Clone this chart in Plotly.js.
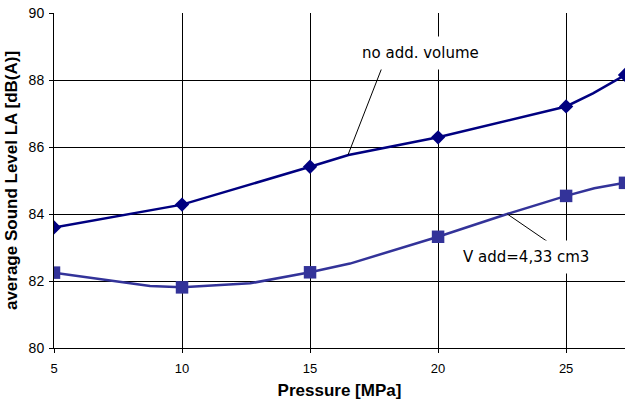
<!DOCTYPE html>
<html>
<head>
<meta charset="utf-8">
<script src="https://cdn.plot.ly/plotly-3.0.1.min.js"></script>
<style>html,body{margin:0;padding:0;background:#fff;}#chart{width:625px;height:406px;}</style>
</head>
<body>
<div id="chart"></div>
<script>
// Series: no additional volume
const xNoAdd = [5, 8.75, 10, 15, 16.5, 20, 23.2, 25, 26.05, 27.3];
const yNoAdd = [83.6, 84.12, 84.28, 85.41, 85.76, 86.29, 86.89, 87.21, 87.6, 88.15];
const markNoAdd = [1, 0, 1, 1, 0, 1, 0, 1, 0, 1];

// Series: V add = 4,33 cm3
const xVadd = [5, 8.75, 10, 12.66, 15, 16.56, 20, 22.7, 25, 26.1, 27.3];
const yVadd = [82.25, 81.85, 81.81, 81.93, 82.26, 82.52, 83.32, 84.0, 84.54, 84.77, 84.93];
const markVadd = [1, 0, 1, 0, 1, 0, 1, 0, 1, 0, 1];

const xTicks = [5, 10, 15, 20, 25];
const yTicks = [80, 82, 84, 86, 88, 90];

const labelNoAdd = "no add. volume";
const labelVadd = "V add=4,33 cm3";

const tr1 = {
  x: xNoAdd, y: yNoAdd, type: 'scatter', mode: 'lines+markers',
  line: {color: '#000080', width: 2.5},
  marker: {symbol: 'diamond', color: '#000080', opacity: 1, line: {width: 0},
           size: markNoAdd.map(m => m ? 11 : 0)},
  cliponaxis: true, hoverinfo: 'none'
};
const tr2 = {
  x: xVadd, y: yVadd, type: 'scatter', mode: 'lines+markers',
  line: {color: '#333399', width: 2.5},
  marker: {symbol: 'square', color: '#333399', opacity: 1, line: {width: 0},
           size: markVadd.map(m => m ? 12.5 : 0)},
  cliponaxis: true, hoverinfo: 'none'
};

const annFont = {family: 'DejaVu Sans', size: 15, color: '#000'};
const layout = {
  width: 625, height: 406,
  margin: {l: 54, r: 0, t: 13, b: 58},
  paper_bgcolor: '#fff', plot_bgcolor: '#fff',
  showlegend: false,
  xaxis: {
    range: [5, 27.3], tickvals: xTicks, ticktext: xTicks.map(String),
    showgrid: true, gridcolor: '#000', gridwidth: 1,
    zeroline: false, showline: true, linecolor: '#000', linewidth: 1,
    ticks: 'outside', ticklen: 4, tickcolor: '#000', ticklabelstandoff: 4,
    tickfont: {family: 'Liberation Sans', size: 13, color: '#000'},
    title: {text: 'Pressure [MPa]', font: {family: 'Liberation Sans', size: 17, color: '#000', weight: 'bold'}, standoff: 9}
  },
  yaxis: {
    range: [80, 90], tickvals: yTicks, ticktext: yTicks.map(String),
    showgrid: true, gridcolor: '#000', gridwidth: 1,
    zeroline: false, showline: true, linecolor: '#000', linewidth: 1,
    ticks: 'outside', ticklen: 4, tickcolor: '#000', ticklabelstandoff: 2,
    tickfont: {family: 'Liberation Sans', size: 14, color: '#000'},
    title: {text: 'average Sound Level LA [dB(A)]', font: {family: 'Liberation Sans', size: 17, color: '#000', weight: 'bold'}, standoff: 6}
  },
  annotations: [
    {x: 16.48, y: 85.76, ax: 17.85, ay: 88.45, axref: 'x', ayref: 'y', xref: 'x', yref: 'y',
     text: '', showarrow: true, arrowhead: 0, arrowwidth: 1, arrowcolor: '#000'},
    {x: 19.3, y: 88.8, xref: 'x', yref: 'y', text: labelNoAdd, showarrow: false,
     font: annFont, bgcolor: '#fff', borderpad: 7},
    {x: 22.7, y: 84.0, ax: 24.38, ay: 83.12, axref: 'x', ayref: 'y', xref: 'x', yref: 'y',
     text: '', showarrow: true, arrowhead: 0, arrowwidth: 1, arrowcolor: '#000'},
    {x: 23.42, y: 82.72, xref: 'x', yref: 'y', text: labelVadd, showarrow: false,
     font: annFont, bgcolor: '#fff', borderpad: 7}
  ]
};

Plotly.newPlot('chart', [tr1, tr2], layout, {staticPlot: true, displayModeBar: false});
</script>
</body>
</html>
